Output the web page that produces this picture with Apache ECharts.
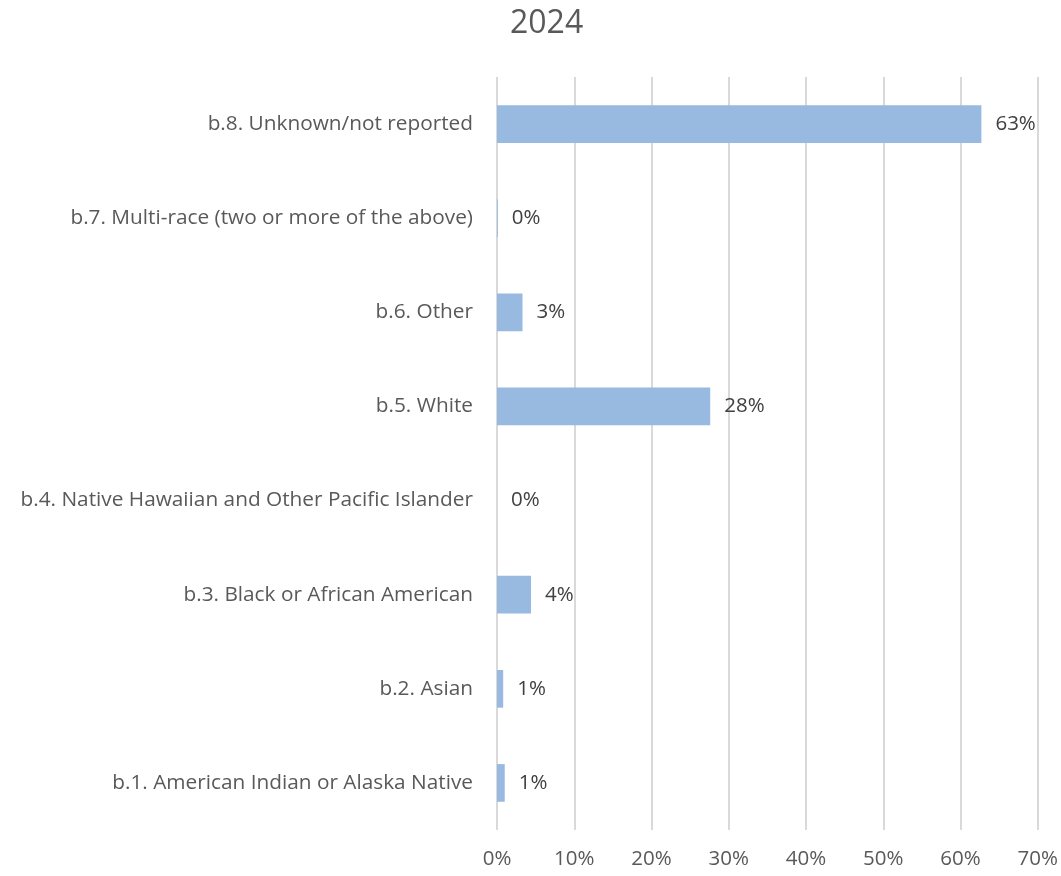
<!DOCTYPE html>
<html>
<head>
<meta charset="utf-8">
<script src="https://cdn.jsdelivr.net/npm/echarts@6/dist/echarts.min.js"></script>
<style>
  html, body { margin: 0; padding: 0; background: #ffffff; }
  #chart { width: 1061px; height: 876px; }
</style>
</head>
<body>
<div id="chart"></div>
<script>
// Race categories, bottom to top
const categories = [
  'b.1. American Indian or Alaska Native',
  'b.2. Asian',
  'b.3. Black or African American',
  'b.4. Native Hawaiian and Other Pacific Islander',
  'b.5. White',
  'b.6. Other',
  'b.7. Multi-race (two or more of the above)',
  'b.8. Unknown/not reported'
];
// Share of participants, percent
const shares = [1.0, 0.8, 4.4, 0.0, 27.6, 3.3, 0.1, 62.7];
const chartTitle = '2024';

const FONT = '"Open Sans", "Noto Sans", sans-serif';
const chart = echarts.init(document.getElementById('chart'), null, { renderer: 'canvas' });

chart.setOption({
  animation: false,
  title: {
    text: chartTitle,
    left: 505,
    top: 3,
    textStyle: { fontFamily: FONT, fontSize: 32, fontWeight: 'normal', color: '#595959' }
  },
  grid: { left: 497, right: 21, top: 77, bottom: 46, containLabel: false },
  xAxis: {
    type: 'value',
    min: 0,
    max: 70,
    interval: 10,
    axisLine: { show: false },
    axisTick: { show: false },
    splitLine: { lineStyle: { color: '#d9d9d9', width: 2 } },
    axisLabel: {
      formatter: '{value}%',
      fontFamily: FONT,
      fontSize: 20.5,
      color: '#595959',
      margin: 19
    }
  },
  yAxis: {
    type: 'category',
    data: categories,
    axisLine: { show: false },
    axisTick: { show: false },
    axisLabel: {
      fontFamily: FONT,
      fontSize: 20.8,
      color: '#595959',
      margin: 24
    }
  },
  series: [{
    type: 'bar',
    data: shares,
    barWidth: '40%',
    itemStyle: { color: '#98b9e0' },
    label: {
      show: true,
      position: 'right',
      distance: 14,
      fontFamily: FONT,
      fontSize: 20.5,
      color: '#404040',
      formatter: p => Math.round(p.value) + '%'
    }
  }]
});
</script>
</body>
</html>
